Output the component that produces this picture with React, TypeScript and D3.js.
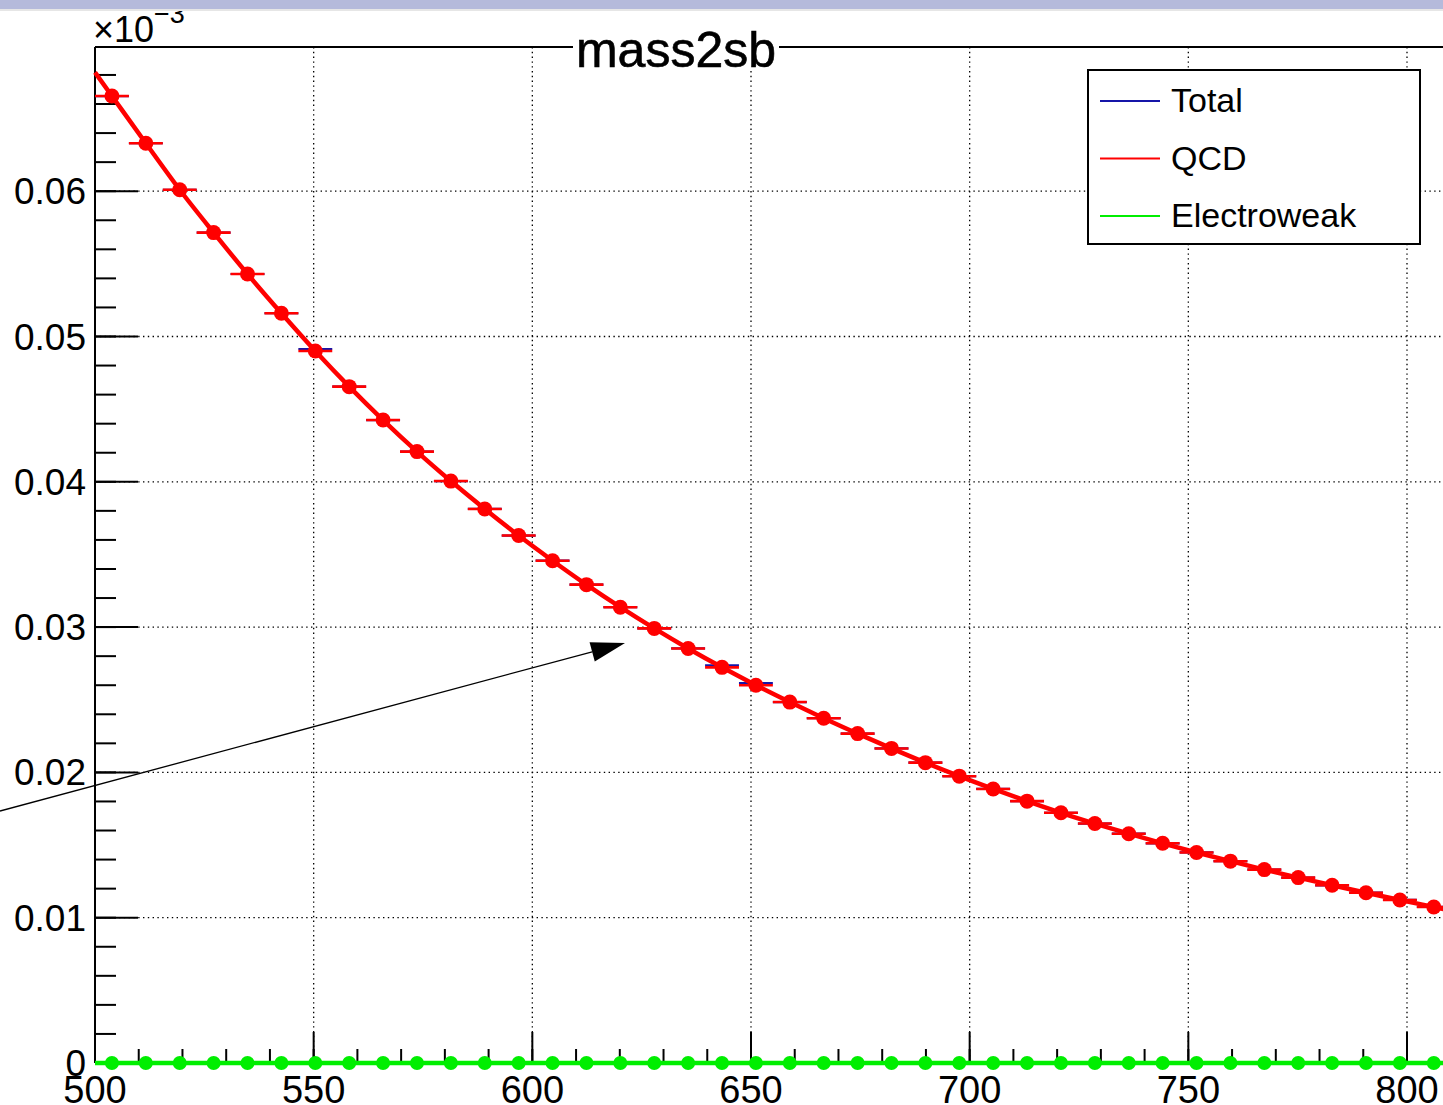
import React from "react";
import * as d3 from "d3";

const W = 1443;
const H = 1105;

// ---- data ----
const xRange = [500, 810];
const binCount = 40;
const qcdValues = [
  0.06655, 0.0633, 0.0601, 0.05715, 0.0543, 0.0516, 0.049, 0.04655, 0.04425, 0.04208,
  0.04005, 0.03813, 0.0363, 0.03457, 0.03292, 0.03137, 0.02991, 0.02853, 0.02723, 0.026,
  0.02484, 0.02373, 0.02267, 0.02165, 0.02067, 0.01974, 0.01886, 0.01802, 0.01722, 0.01648,
  0.01578, 0.01512, 0.01449, 0.01389, 0.01331, 0.01276, 0.01223, 0.01172, 0.01122, 0.01074,
];
const totalValues = [
  0.06655, 0.0633, 0.0601, 0.05715, 0.0543, 0.0516, 0.04914, 0.04655, 0.04425, 0.04208,
  0.04005, 0.03813, 0.0363, 0.03457, 0.03292, 0.03137, 0.02991, 0.02853, 0.02737, 0.02614,
  0.02484, 0.02373, 0.02267, 0.02165, 0.02067, 0.01974, 0.01886, 0.01802, 0.01722, 0.01648,
  0.01578, 0.01512, 0.01449, 0.01389, 0.01331, 0.01276, 0.01223, 0.01172, 0.01122, 0.01074,
];
const ewValues = [
  0, 0, 0, 0, 0, 0, 0, 0, 0, 0, 0, 0, 0, 0, 0, 0, 0, 0, 0, 0,
  0, 0, 0, 0, 0, 0, 0, 0, 0, 0, 0, 0, 0, 0, 0, 0, 0, 0, 0, 0,
];
const xMajorTicks = [500, 550, 600, 650, 700, 750, 800];
const xMinorTicks = d3.range(500, 811, 10);
const xTickLabels = ["500", "550", "600", "650", "700", "750", "800"];
const yMajorTicks = [0, 0.01, 0.02, 0.03, 0.04, 0.05, 0.06];
const yMinorTicks = d3.range(0, 35).map((i) => i * 0.002);
const yTickLabels = ["0", "0.01", "0.02", "0.03", "0.04", "0.05", "0.06"];
const legendLabels = ["Total", "QCD", "Electroweak"];
const titleText = "mass2sb";

// ---- styles ----
const FONT = "'Liberation Sans', Arial, Helvetica, sans-serif";
const C_TOTAL = "#1515a8";
const C_QCD = "#ff0000";
const C_EW = "#00ee00";

const left = 95;
const top = 47;
const bottom = 1063;
const pxPerUnit = (1407 - 95) / 300;
const right = left + (xRange[1] - xRange[0]) * pxPerUnit;

const x = d3.scaleLinear().domain(xRange).range([left, right]);
const y = d3.scaleLinear().domain([0, (bottom - top) / 14530]).range([bottom, top]);

const binW = (xRange[1] - xRange[0]) / binCount;
const centers = d3.range(binCount).map((i) => xRange[0] + binW * (i + 0.5));

function curvePoints(vals: number[]): [number, number][] {
  const pts: [number, number][] = vals.map((v, i) => [centers[i], v]);
  const n = vals.length;
  const s0 = (vals[1] - vals[0]) / binW;
  const s1 = (vals[n - 1] - vals[n - 2]) / binW;
  const first: [number, number] = [xRange[0], vals[0] - s0 * (binW / 2)];
  const last: [number, number] = [xRange[1], vals[n - 1] + s1 * (binW / 2)];
  return [first, ...pts, last];
}

const lineGen = d3
  .line<[number, number]>()
  .x((d) => x(d[0]))
  .y((d) => y(d[1]))
  .curve(d3.curveMonotoneX);

function Series({ vals, color, barW, r, lineW, showLine }: { vals: number[]; color: string; barW: number; r: number; lineW: number; showLine: boolean }) {
  return (
    <g>
      {showLine && (
        <path d={lineGen(curvePoints(vals)) || ""} fill="none" stroke={color} strokeWidth={lineW} strokeLinejoin="round" />
      )}
      {vals.map((v, i) => (
        <line key={"b" + i} x1={x(centers[i] - binW / 2)} x2={x(centers[i] + binW / 2)} y1={y(v)} y2={y(v)} stroke={color} strokeWidth={barW} />
      ))}
      {r > 0 &&
        vals.map((v, i) => <circle key={"m" + i} cx={x(centers[i])} cy={y(v)} r={r} fill={color} />)}
    </g>
  );
}

export default function App() {
  const gridDash = "1.4 3.4";
  const arrowStart = { px: 0, py: 811 };
  const arrowTip = { px: 625, py: 643 };
  const ang = Math.atan2(arrowTip.py - arrowStart.py, arrowTip.px - arrowStart.px);
  const headL = 34;
  const headHW = 10;
  const bx = arrowTip.px - headL * Math.cos(ang);
  const by = arrowTip.py - headL * Math.sin(ang);
  const head = [
    [arrowTip.px, arrowTip.py],
    [bx - headHW * Math.sin(ang), by + headHW * Math.cos(ang)],
    [bx + headHW * Math.sin(ang), by - headHW * Math.cos(ang)],
  ]
    .map((p) => p.join(","))
    .join(" ");

  return (
    <svg width={W} height={H} style={{ position: "absolute", left: 0, top: 0, background: "#fff" }} fontFamily={FONT}>
      <rect x={0} y={0} width={W} height={H} fill="#fff" />

      {/* grid */}
      {xMajorTicks.slice(1).map((t) => (
        <line key={"gx" + t} x1={x(t)} x2={x(t)} y1={top} y2={bottom} stroke="#000" strokeWidth={1.3} strokeDasharray={gridDash} />
      ))}
      {yMajorTicks.slice(1).map((t) => (
        <line key={"gy" + t} x1={left} x2={W} y1={y(t)} y2={y(t)} stroke="#000" strokeWidth={1.3} strokeDasharray={gridDash} />
      ))}

      {/* frame */}
      <line x1={left} x2={W} y1={top} y2={top} stroke="#000" strokeWidth={2} />
      <line x1={left} x2={left} y1={top} y2={bottom} stroke="#000" strokeWidth={2} />
      <line x1={left} x2={W} y1={bottom} y2={bottom} stroke="#000" strokeWidth={2} />

      {/* y ticks */}
      {yMinorTicks.map((t) => (
        <line key={"ym" + t} x1={left} x2={left + 21} y1={y(t)} y2={y(t)} stroke="#000" strokeWidth={2} />
      ))}
      {yMajorTicks.map((t) => (
        <line key={"yM" + t} x1={left} x2={left + 43} y1={y(t)} y2={y(t)} stroke="#000" strokeWidth={2} />
      ))}
      {yMajorTicks.map((t, i) => (
        <text key={"yl" + t} x={left - 9} y={y(t) + 13} fontSize={37} textAnchor="end" fill="#000">
          {yTickLabels[i]}
        </text>
      ))}

      {/* x ticks */}
      {xMinorTicks.map((t) => (
        <line key={"xm" + t} x1={x(t)} x2={x(t)} y1={bottom} y2={bottom - 14} stroke="#000" strokeWidth={2} />
      ))}
      {xMajorTicks.map((t) => (
        <line key={"xM" + t} x1={x(t)} x2={x(t)} y1={bottom} y2={bottom - 31} stroke="#000" strokeWidth={2} />
      ))}
      {xMajorTicks.map((t, i) => (
        <text key={"xl" + t} x={x(t)} y={1103} fontSize={38} textAnchor="middle" fill="#000">
          {xTickLabels[i]}
        </text>
      ))}

      {/* series */}
      <g>
        <Series vals={totalValues} color={C_TOTAL} barW={2.2} r={0} lineW={0} showLine={false} />
        <Series vals={qcdValues} color={C_QCD} barW={2.6} r={7.5} lineW={4.5} showLine={true} />
        <Series vals={ewValues} color={C_EW} barW={2.5} r={7} lineW={4.5} showLine={true} />
      </g>

      {/* arrow */}
      <line x1={arrowStart.px} y1={arrowStart.py} x2={bx} y2={by} stroke="#000" strokeWidth={1.3} />
      <polygon points={head} fill="#000" />

      {/* title */}
      <rect x={573} y={28} width={206} height={41} fill="#fff" />
      <text x={676} y={67} fontSize={50} textAnchor="middle" fill="#000" stroke="#000" strokeWidth={0.6}>
        {titleText}
      </text>

      {/* legend */}
      <rect x={1088} y={70} width={332} height={174} fill="#fff" stroke="#000" strokeWidth={2} />
      {[C_TOTAL, C_QCD, C_EW].map((c, i) => (
        <g key={"lg" + i}>
          <line x1={1100} x2={1160} y1={101 + i * 57.5} y2={101 + i * 57.5} stroke={c} strokeWidth={2} />
          <text x={1171} y={112 + i * 57.5} fontSize={34} fill="#000">
            {legendLabels[i]}
          </text>
        </g>
      ))}

      {/* exponent label */}
      <text x={93} y={42} fontSize={36} fill="#000">
        ×10
        <tspan dy={-19} fontSize={27}>−3</tspan>
      </text>

      {/* top banner */}
      <rect x={0} y={0} width={W} height={9} fill="#b5badb" />
      <rect x={0} y={9} width={W} height={2} fill="#e6e6e6" />
    </svg>
  );
}
